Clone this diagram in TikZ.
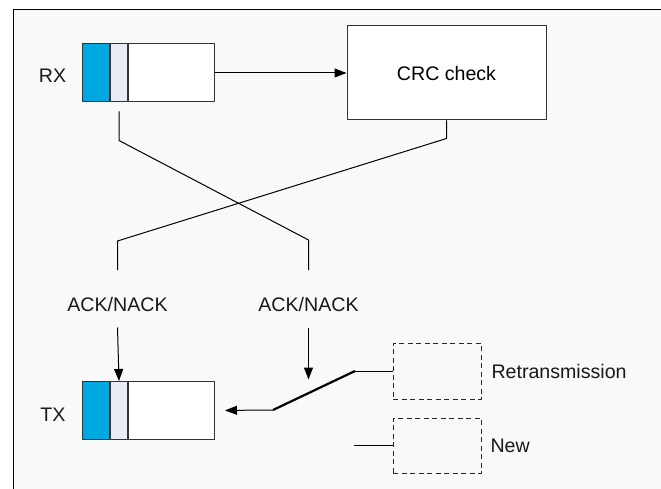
\documentclass[tikz,border=0pt]{standalone}
\usepackage{fontspec}
\setmainfont{Liberation Sans}
\usetikzlibrary{arrows.meta}
\definecolor{bufblue}{HTML}{00A8E0}
\definecolor{bufgray}{HTML}{E8EDF5}
\definecolor{paper}{HTML}{F9F9F9}
\tikzset{
    seg/.style={draw=black!80, line width=1pt, minimum height=58pt, inner sep=0pt, anchor=west},
    crcbox/.style={draw=black!80, line width=1pt, minimum width=199pt, minimum height=94pt, inner sep=0pt},
    srcbox/.style={draw=black!85, line width=1pt, dash pattern=on 5pt off 3.5pt, minimum width=88pt, minimum height=56pt, inner sep=0pt},
    lbl/.style={inner sep=0pt, text=black!90},
}
\begin{document}
\begin{tikzpicture}[>={Triangle[length=12pt,width=9pt]}, x=1pt, y=-1pt, line width=1pt, line join=round,
    font=\fontsize{19.6pt}{22pt}\selectfont]
    \useasboundingbox (0,0) rectangle (661,489);
    \fill[paper] (13,9.5) rectangle (661,489);
    \draw (13,489) -- (13,9.5) -- (661,9.5);
    % receiver
    \node[seg, minimum width=27pt, fill=bufblue] (rxhead) at (82,73) {};
    \node[seg, minimum width=17pt, fill=bufgray] (rxseq) at (rxhead.east) {};
    \node[seg, minimum width=86pt, fill=white] (rxbody) at (rxseq.east) {};
    \node[lbl] (rx) at (52.5,76) {RX};
    \node[crcbox, fill=white] (crc) at (446.5,73) {CRC check};
    % transmitter
    \node[seg, minimum width=27pt, fill=bufblue] (txhead) at (82,410.5) {};
    \node[seg, minimum width=17pt, fill=bufgray] (txseq) at (txhead.east) {};
    \node[seg, minimum width=86pt, fill=white] (txbody) at (txseq.east) {};
    \node[lbl] (tx) at (53,414.5) {TX};
    \node[srcbox] (retx) at (437,371) {};
    \node[srcbox, minimum height=55pt] (newx) at (437,445.5) {};
    \node[lbl, anchor=west] (retxlbl) at (491,371) {Retransmission};
    \node[lbl, anchor=west] (newlbl) at (490,446) {New};
    % feedback
    \node[lbl] (ack1) at (117.5,304.5) {ACK/NACK};
    \node[lbl] (ack2) at (308.5,304.5) {ACK/NACK};
    \coordinate (xa) at (308.5,270);
    \coordinate (xb) at (117.5,270);
    \coordinate (swa) at (273,410);
    \coordinate (swb) at (355,371);
    \coordinate (swtop) at (308.5,379.5);
    \coordinate (newin) at (354,445.5);
    \draw[->] (rxbody.east) -- (crc.west);
    \draw ([yshift=-9pt]rxseq.south) -- ++(0,29) -- ([yshift=30pt]xa) -- (xa);
    \draw (crc.south) -- ++(0,18) -- ([yshift=29pt]xb) -- (xb);
    \draw[->] ([yshift=-23pt]ack1.center) -- (txseq.north);
    \draw[->] ([yshift=-23pt]ack2.center) -- (swtop);
    \draw[->, shorten >=10pt] (swa) -- (txbody.east);
    \draw[line width=2.2pt] (swa) -- (swb);
    \draw (swb) -- (retx.west);
    \draw (newin) -- (newx.west);
\end{tikzpicture}
\end{document}
